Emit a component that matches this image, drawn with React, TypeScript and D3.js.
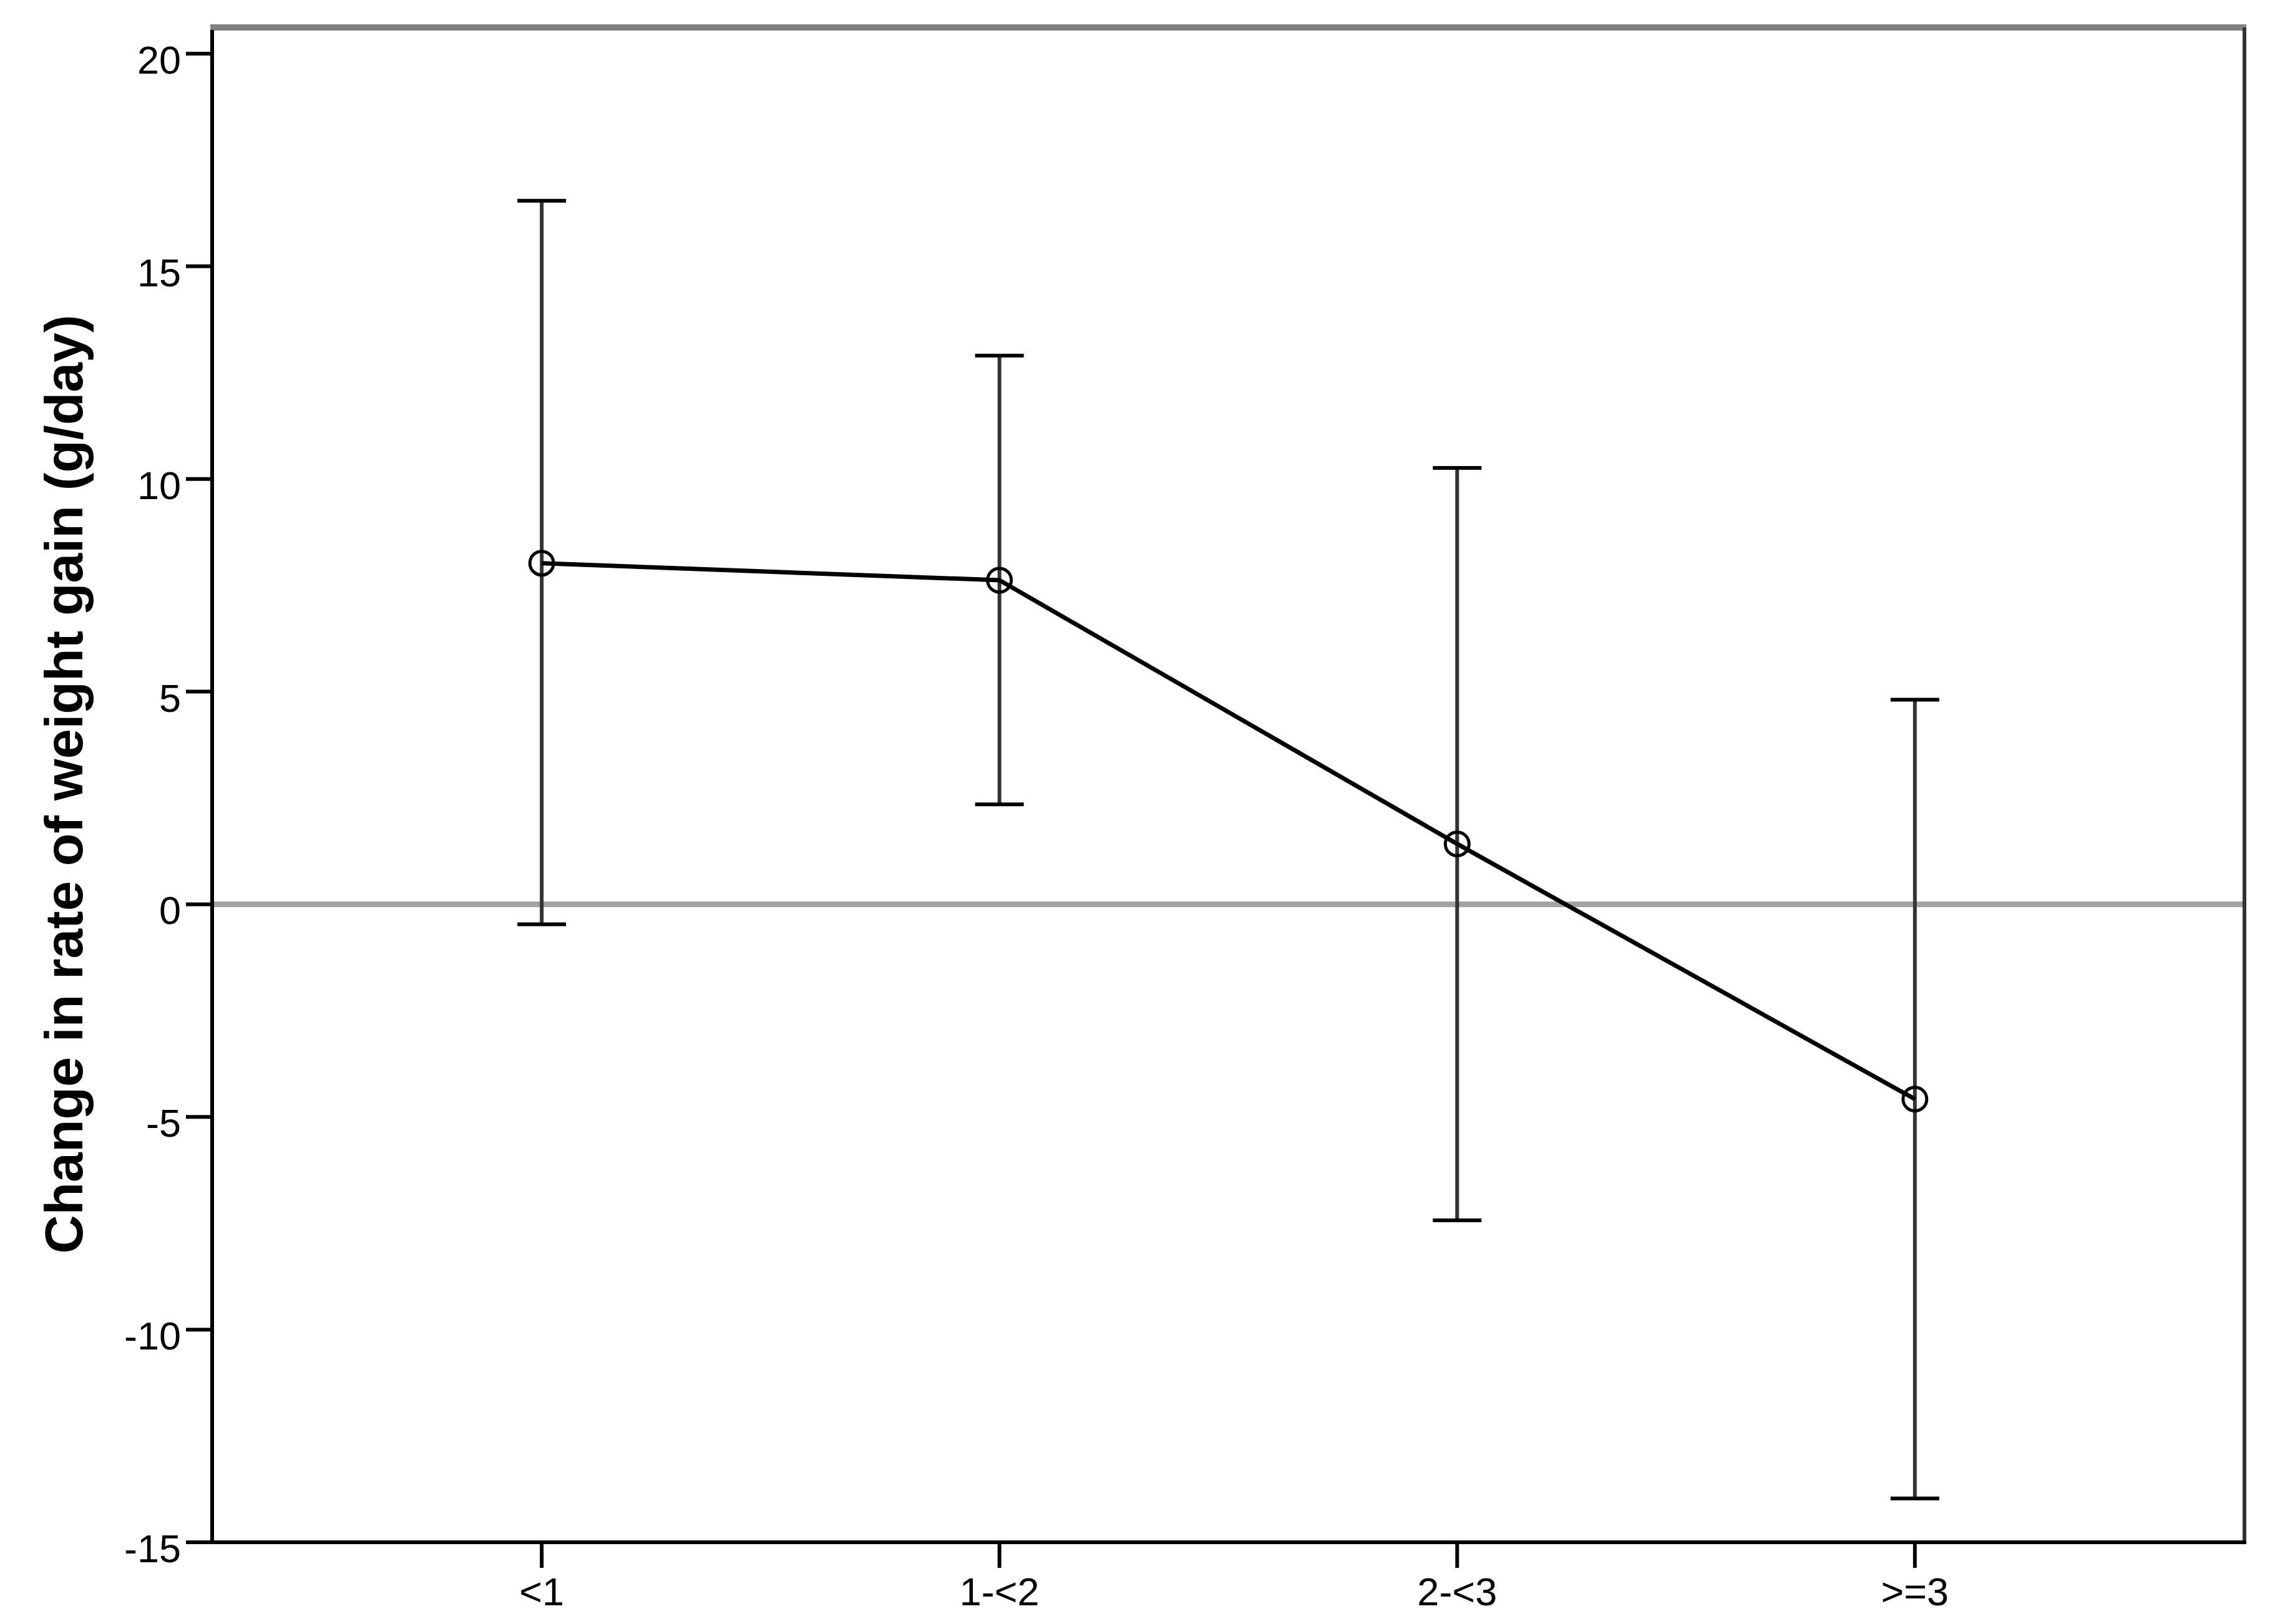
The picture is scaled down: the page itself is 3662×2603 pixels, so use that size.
import React from "react";
import * as d3 from "d3";

const categories = ["<1", "1-<2", "2-<3", ">=3"];
const means = [8.02, 7.62, 1.42, -4.58];
const upper = [16.54, 12.9, 10.26, 4.81];
const lower = [-0.47, 2.35, -7.43, -13.97];
const yTicks = [20, 15, 10, 5, 0, -5, -10, -15];
const yTitle = "Change in rate of weight gain (g/day)";

const W = 3662;
const H = 2603;
const left = 340;
const right = 3597;
const top = 44;
const bottom = 2472;

export default function App() {
  const x = d3.scalePoint<string>().domain(categories).range([left, right]).padding(0.72);
  const y = d3.scaleLinear().domain([-15, 20]).range([2472, 86]);
  const line = d3
    .line<number>()
    .x((_, i) => x(categories[i]) as number)
    .y((d) => y(d));
  const font = "'Liberation Sans', Arial, sans-serif";
  const capW = 39;
  return (
    <div style={{ position: "absolute", left: 0, top: 0 }}>
      <svg width={W} height={H} style={{ display: "block", background: "#fff" }}>
        <rect x={0} y={0} width={W} height={H} fill="#fff" />
        {/* zero reference line */}
        <line x1={left} x2={right} y1={y(0)} y2={y(0)} stroke="#a3a3a3" strokeWidth={9} />
        {/* frame */}
        <line x1={left - 3} x2={right + 3} y1={top} y2={top} stroke="#808080" strokeWidth={10} />
        <line x1={right} x2={right} y1={top} y2={bottom} stroke="#333" strokeWidth={6} />
        <line x1={left} x2={right + 3} y1={bottom} y2={bottom} stroke="#000" strokeWidth={6} />
        <line x1={left} x2={left} y1={top + 4} y2={bottom + 3} stroke="#000" strokeWidth={6} />
        {/* y ticks */}
        {yTicks.map((t) => (
          <g key={t}>
            <line x1={left - 42} x2={left} y1={y(t)} y2={y(t)} stroke="#000" strokeWidth={6} />
            <text
              x={290}
              y={y(t) + 32}
              textAnchor="end"
              fontFamily={font}
              fontSize={63}
              fill="#000"
            >
              {t}
            </text>
          </g>
        ))}
        {/* x ticks */}
        {categories.map((c) => (
          <g key={c}>
            <line
              x1={x(c)}
              x2={x(c)}
              y1={bottom}
              y2={bottom + 41}
              stroke="#000"
              strokeWidth={6}
            />
            <text
              x={x(c)}
              y={bottom + 101}
              textAnchor="middle"
              fontFamily={font}
              fontSize={63}
              fill="#000"
            >
              {c}
            </text>
          </g>
        ))}
        {/* error bars */}
        {categories.map((c, i) => (
          <g key={"eb" + c} stroke="#333" strokeWidth={6}>
            <line x1={x(c)} x2={x(c)} y1={y(upper[i])} y2={y(lower[i])} />
            <line x1={(x(c) as number) - capW} x2={(x(c) as number) + capW} y1={y(upper[i])} y2={y(upper[i])} stroke="#000" />
            <line x1={(x(c) as number) - capW} x2={(x(c) as number) + capW} y1={y(lower[i])} y2={y(lower[i])} stroke="#000" />
          </g>
        ))}
        {/* mean line */}
        <path d={line(means) || ""} fill="none" stroke="#000" strokeWidth={7} />
        {means.map((m, i) => (
          <circle
            key={"pt" + i}
            cx={x(categories[i])}
            cy={y(m)}
            r={19}
            fill="none"
            stroke="#000"
            strokeWidth={5}
          />
        ))}
        {/* y title */}
        <text
          transform={`translate(132, 1257) rotate(-90)`}
          textAnchor="middle"
          fontFamily={font}
          fontWeight="bold"
          fontSize={86}
          fill="#000"
        >
          {yTitle}
        </text>
      </svg>
    </div>
  );
}
